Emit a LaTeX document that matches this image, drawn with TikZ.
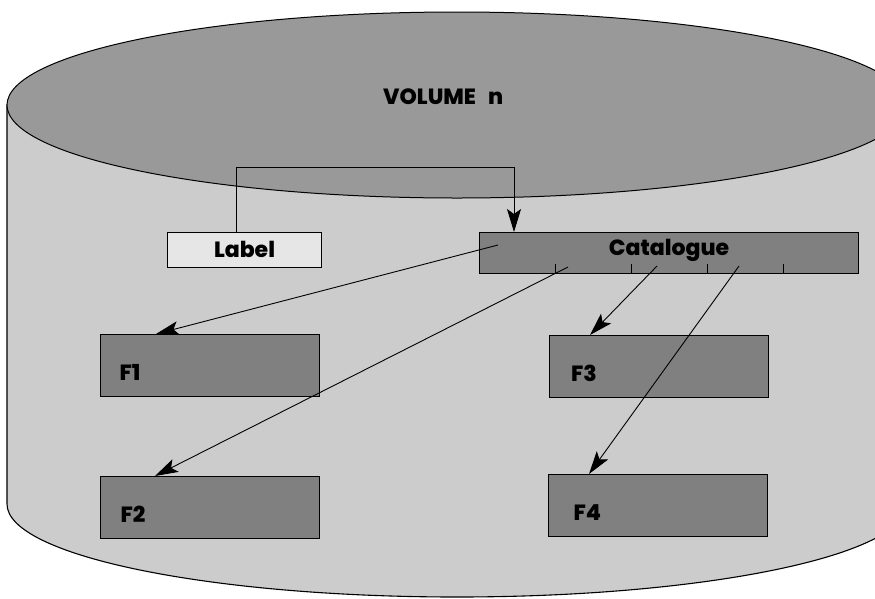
\documentclass[tikz,border=0pt]{standalone}
\usepackage{fontspec}
\setmainfont{Poppins}[BoldFont={Poppins ExtraBold}]
\usetikzlibrary{arrows.meta,calc}
\definecolor{wallgray}{HTML}{CCCCCC}
\definecolor{topgray}{HTML}{999999}
\definecolor{boxgray}{HTML}{808080}
\definecolor{labelgray}{HTML}{E6E6E6}
\begin{document}
\begin{tikzpicture}[x=1pt,y=-1pt,
  txt/.style={font=\fontsize{22}{26}\selectfont\bfseries},
  filebox/.style={txt, draw=black, line width=1.1pt, fill=boxgray,
    minimum width=219pt, minimum height=62pt, anchor=north west,
    inner ysep=0pt, text height=46pt, text depth=16pt, align=left},
  arr/.style={line width=0.9pt, -{Stealth[length=23pt,width=14pt,inset=5pt]}}]
\useasboundingbox (0,0) rectangle (875,598);
\clip (0,0) rectangle (875,598);

% cylinder wall and top face
\filldraw[fill=wallgray, line width=1.1pt]
  (7,105) -- (7,504) arc[start angle=180, end angle=360, x radius=450pt, y radius=93pt]
  -- (907,105) -- cycle;
\filldraw[fill=topgray, line width=1pt] (457,105) ellipse[x radius=450pt, y radius=93pt];
\node[txt, anchor=base west, inner sep=0pt] (vol) at (383,104) {VOLUME\hspace{12pt}n};

% label and catalogue
\node[txt, draw=black, line width=1.1pt, fill=labelgray, anchor=north west,
  minimum width=154pt, inner sep=0pt, text height=25pt, text depth=10pt] (lab) at (167,232) {Label};
\node[txt, draw=black, line width=1.1pt, fill=boxgray, anchor=north west,
  minimum width=379pt, inner sep=0pt, text height=23pt, text depth=18pt] (cat) at (479,232) {Catalogue};
\foreach \k in {1,2,3,4}
  \draw[line width=0.9pt] ($(cat.south west)!\k/5!(cat.south east)$) -- ++(0,-10);

% files
\node[filebox, inner xsep=19pt, text width=181pt] (f1) at (100,334) {F1};
\node[filebox, inner xsep=20pt, text width=179pt] (f2) at (100,476) {F2};
\node[filebox, inner xsep=21pt, text width=176pt] (f3) at (549,335) {F3};
\node[filebox, inner xsep=25pt, text width=169pt] (f4) at (548,474) {F4};

% catalogue entries
\coordinate (e1) at (498,245);
\coordinate (e2) at (568,267);
\coordinate (e3) at (657,266);
\coordinate (e4) at (739,266);

\draw[arr] ($(lab.north west)+(69,0)$) -- ++(0,-65) -| ($(cat.north west)+(35,0)$);
\draw[arr] (e1) -- ($(f1.north west)+(56,0)$);
\draw[arr] (e2) -- ($(f2.north west)+(55,0)$);
\draw[arr] (e3) -- ($(f3.north west)+(41,0)$);
\draw[arr] (e4) -- ($(f4.north west)+(41,0)$);
\end{tikzpicture}
\end{document}
